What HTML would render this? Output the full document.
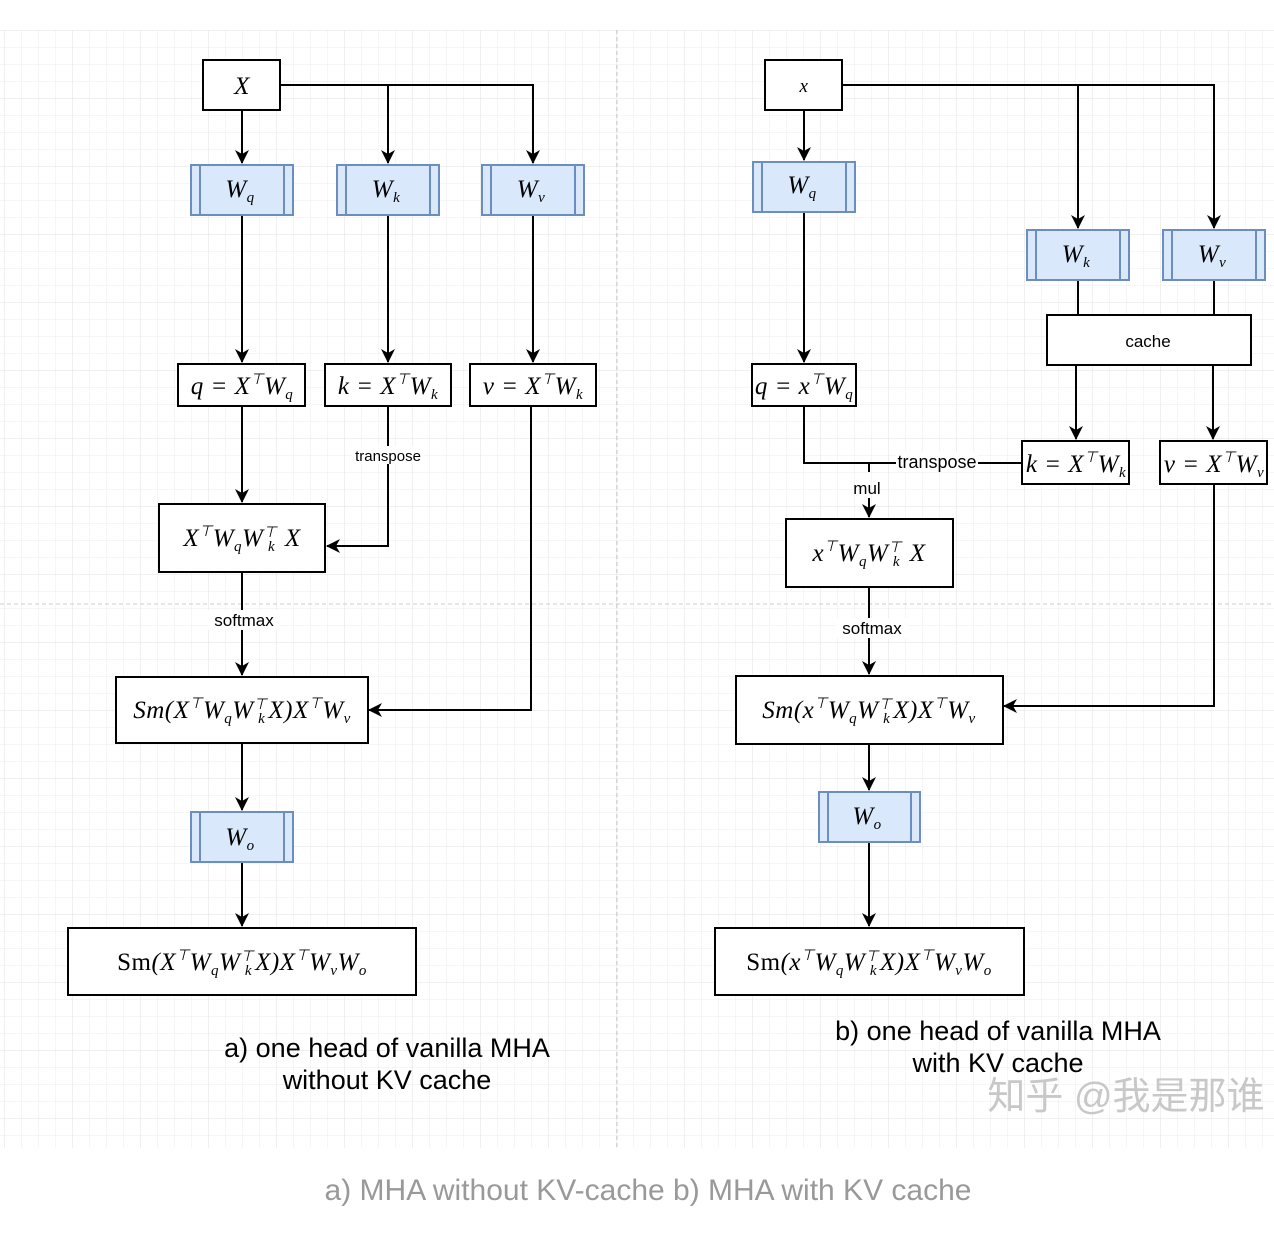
<!DOCTYPE html>
<html><head><meta charset="utf-8"><style>
body{margin:0;background:#fff;}
svg text{font-family:"Liberation Sans",sans-serif;}
svg .m text{font-family:"Liberation Serif",serif;font-style:italic;font-size:25px;letter-spacing:0.5px;}
.s{font-size:15px;font-style:italic;}
</style></head><body>
<svg width="1274" height="1240" viewBox="0 0 1274 1240" xmlns="http://www.w3.org/2000/svg">
<defs>
<pattern id="g" x="4" y="30" width="17" height="17" patternUnits="userSpaceOnUse"><path d="M0 0H17M0 0V17" stroke="#ececec" stroke-width="1" fill="none"/></pattern>
<pattern id="G" x="4" y="30" width="68" height="68" patternUnits="userSpaceOnUse"><path d="M0 0H68M0 0V68" stroke="#e0e0e0" stroke-width="1" fill="none"/></pattern>
<marker id="a" markerWidth="16" markerHeight="16" refX="13" refY="7" orient="auto" markerUnits="userSpaceOnUse"><path d="M0 0L14 7L0 14L4 7Z" fill="#000"/></marker>
</defs>
<rect x="0" y="30" width="1274" height="1118" fill="url(#g)"/>
<rect x="0" y="30" width="1274" height="1118" fill="url(#G)"/>
<line x1="617" y1="30" x2="617" y2="1148" stroke="#ccc" stroke-dasharray="4 3"/>
<line x1="0" y1="604" x2="1274" y2="604" stroke="#ccc" stroke-dasharray="4 3"/>
<g stroke="#000" stroke-width="2" fill="none">
<path d="M280 85H533V162M388 85V162" /><path d="M533 85V163" marker-end="url(#a)"/><path d="M388 85V163" marker-end="url(#a)"/>
<path d="M242 110V163" marker-end="url(#a)"/>
<path d="M242 215V362" marker-end="url(#a)"/><path d="M388 215V362" marker-end="url(#a)"/><path d="M533 215V362" marker-end="url(#a)"/>
<path d="M242 406V502" marker-end="url(#a)"/>
<path d="M388 406V546H327" marker-end="url(#a)"/>
<path d="M531 406V710H369" marker-end="url(#a)"/>
<path d="M242 572V675" marker-end="url(#a)"/>
<path d="M242 743V810" marker-end="url(#a)"/>
<path d="M242 862V926" marker-end="url(#a)"/>
<path d="M842 85H1214V227"/><path d="M1214 85V228" marker-end="url(#a)"/><path d="M1078 85V228" marker-end="url(#a)"/>
<path d="M804 110V160" marker-end="url(#a)"/>
<path d="M804 212V362" marker-end="url(#a)"/>
<path d="M1078 280V315M1214 280V315"/>
<path d="M1076 365V439" marker-end="url(#a)"/><path d="M1213 365V439" marker-end="url(#a)"/>
<path d="M804 406V463H1022M869 463V472"/>
<path d="M869 498V517" marker-end="url(#a)"/>
<path d="M869 587V674" marker-end="url(#a)"/>
<path d="M1214 484V706H1004" marker-end="url(#a)"/>
<path d="M869 744V790" marker-end="url(#a)"/>
<path d="M869 842V926" marker-end="url(#a)"/>
</g>
<g stroke="#000" stroke-width="2" fill="#fff">
<rect x="203" y="60" width="77" height="50"/>
<rect x="178" y="364" width="127" height="42"/><rect x="325" y="364" width="126" height="42"/><rect x="470" y="364" width="126" height="42"/>
<rect x="159" y="504" width="166" height="68"/>
<rect x="116" y="677" width="252" height="66"/>
<rect x="68" y="928" width="348" height="67"/>
<rect x="765" y="60" width="77" height="50"/>
<rect x="1047" y="315" width="204" height="50"/>
<rect x="752" y="364" width="104" height="42"/>
<rect x="1022" y="441" width="107" height="43"/><rect x="1160" y="441" width="107" height="43"/>
<rect x="786" y="519" width="167" height="68"/>
<rect x="736" y="676" width="267" height="68"/>
<rect x="715" y="928" width="309" height="67"/>
</g>
<g stroke="#6c8ebf" stroke-width="2" fill="#dae8fc">
<rect x="191" y="165" width="102" height="50"/><path d="M200 165V215M284 165V215"/>
<rect x="337" y="165" width="102" height="50"/><path d="M346 165V215M430 165V215"/>
<rect x="482" y="165" width="102" height="50"/><path d="M491 165V215M575 165V215"/>
<rect x="191" y="812" width="102" height="50"/><path d="M200 812V862M284 812V862"/>
<rect x="753" y="162" width="102" height="50"/><path d="M762 162V212M846 162V212"/>
<rect x="1027" y="230" width="102" height="50"/><path d="M1036 230V280M1120 230V280"/>
<rect x="1163" y="230" width="102" height="50"/><path d="M1172 230V280M1256 230V280"/>
<rect x="819" y="792" width="101" height="50"/><path d="M828 792V842M911 792V842"/>
</g>
<g class="m" text-anchor="middle" fill="#000">
<text x="242" y="94">X</text><text x="804" y="92" style="font-size:19px">x</text>
<text x="240" y="197">W<tspan class="s" dy="5">q</tspan></text>
<text x="386" y="197">W<tspan class="s" dy="5">k</tspan></text>
<text x="531" y="197">W<tspan class="s" dy="5">v</tspan></text>
<text x="240" y="845">W<tspan class="s" dy="5">o</tspan></text>
<text x="802" y="193">W<tspan class="s" dy="5">q</tspan></text>
<text x="1076" y="262">W<tspan class="s" dy="5">k</tspan></text>
<text x="1212" y="262">W<tspan class="s" dy="5">v</tspan></text>
<text x="867" y="824">W<tspan class="s" dy="5">o</tspan></text>
<text x="242" y="394">q = X<tspan class="s" dy="-10">⊤</tspan><tspan dy="10">W</tspan><tspan class="s" dy="5">q</tspan></text>
<text x="388" y="394">k = X<tspan class="s" dy="-10">⊤</tspan><tspan dy="10">W</tspan><tspan class="s" dy="5">k</tspan></text>
<text x="533" y="394">v = X<tspan class="s" dy="-10">⊤</tspan><tspan dy="10">W</tspan><tspan class="s" dy="5">k</tspan></text>
<text x="804" y="394">q = x<tspan class="s" dy="-10">⊤</tspan><tspan dy="10">W</tspan><tspan class="s" dy="5">q</tspan></text>
<text x="1076" y="472">k = X<tspan class="s" dy="-10">⊤</tspan><tspan dy="10">W</tspan><tspan class="s" dy="5">k</tspan></text>
<text x="1214" y="472">v = X<tspan class="s" dy="-10">⊤</tspan><tspan dy="10">W</tspan><tspan class="s" dy="5">v</tspan></text>
<text x="242" y="546">X<tspan class="s" dy="-10">⊤</tspan><tspan dy="10">W</tspan><tspan class="s" dy="5">q</tspan><tspan dy="-5">W</tspan><tspan class="s" dy="-9">⊤</tspan><tspan class="s" dx="-9" dy="14">k</tspan><tspan dx="3" dy="-5"> X</tspan></text>
<text x="869" y="561">x<tspan class="s" dy="-10">⊤</tspan><tspan dy="10">W</tspan><tspan class="s" dy="5">q</tspan><tspan dy="-5">W</tspan><tspan class="s" dy="-9">⊤</tspan><tspan class="s" dx="-9" dy="14">k</tspan><tspan dx="3" dy="-5"> X</tspan></text>
<text x="242" y="718">Sm(X<tspan class="s" dy="-10">⊤</tspan><tspan dy="10">W</tspan><tspan class="s" dy="5">q</tspan><tspan dy="-5">W</tspan><tspan class="s" dy="-9">⊤</tspan><tspan class="s" dx="-9" dy="14">k</tspan><tspan dx="3" dy="-5">X)X</tspan><tspan class="s" dy="-10">⊤</tspan><tspan dy="10">W</tspan><tspan class="s" dy="5">v</tspan></text>
<text x="869" y="718">Sm(x<tspan class="s" dy="-10">⊤</tspan><tspan dy="10">W</tspan><tspan class="s" dy="5">q</tspan><tspan dy="-5">W</tspan><tspan class="s" dy="-9">⊤</tspan><tspan class="s" dx="-9" dy="14">k</tspan><tspan dx="3" dy="-5">X)X</tspan><tspan class="s" dy="-10">⊤</tspan><tspan dy="10">W</tspan><tspan class="s" dy="5">v</tspan></text>
<text x="242" y="970"><tspan font-style="normal">Sm</tspan>(X<tspan class="s" dy="-10">⊤</tspan><tspan dy="10">W</tspan><tspan class="s" dy="5">q</tspan><tspan dy="-5">W</tspan><tspan class="s" dy="-9">⊤</tspan><tspan class="s" dx="-9" dy="14">k</tspan><tspan dx="3" dy="-5">X)X</tspan><tspan class="s" dy="-10">⊤</tspan><tspan dy="10">W</tspan><tspan class="s" dy="5">v</tspan><tspan dy="-5">W</tspan><tspan class="s" dy="5">o</tspan></text>
<text x="869" y="970"><tspan font-style="normal">Sm</tspan>(x<tspan class="s" dy="-10">⊤</tspan><tspan dy="10">W</tspan><tspan class="s" dy="5">q</tspan><tspan dy="-5">W</tspan><tspan class="s" dy="-9">⊤</tspan><tspan class="s" dx="-9" dy="14">k</tspan><tspan dx="3" dy="-5">X)X</tspan><tspan class="s" dy="-10">⊤</tspan><tspan dy="10">W</tspan><tspan class="s" dy="5">v</tspan><tspan dy="-5">W</tspan><tspan class="s" dy="5">o</tspan></text>
</g>
<g text-anchor="middle" fill="#000">
<rect x="352" y="446" width="72" height="18" fill="#fff"/>
<text x="388" y="461" font-size="15">transpose</text>
<rect x="208" y="610" width="72" height="20" fill="#fff"/>
<text x="244" y="626" font-size="17">softmax</text>
<rect x="836" y="618" width="72" height="20" fill="#fff"/>
<text x="872" y="634" font-size="17">softmax</text>
<rect x="896" y="452" width="82" height="20" fill="#fff"/>
<text x="937" y="468" font-size="18">transpose</text>
<text x="867" y="494" font-size="17">mul</text>
<text x="1148" y="347" font-size="17">cache</text>
<text x="387" y="1057" font-size="27">a) one head of vanilla MHA</text>
<text x="387" y="1089" font-size="27">without KV cache</text>
<text x="998" y="1040" font-size="27">b) one head of vanilla MHA</text>
<text x="998" y="1072" font-size="27">with KV cache</text>
<text x="1126" y="1109" font-size="38" fill="#c8c8c8" style="font-family:'Liberation Sans','Noto Sans CJK SC',sans-serif">知乎 @我是那谁</text>
<text x="648" y="1200" font-size="30" fill="#999">a) MHA without KV-cache b) MHA with KV cache</text>
</g>
</svg>
</body></html>
